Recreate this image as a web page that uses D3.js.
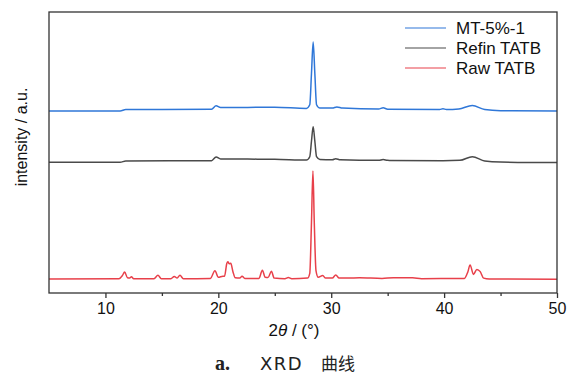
<!DOCTYPE html>
<html>
<head>
<meta charset="utf-8">
<script src="https://cdn.jsdelivr.net/npm/d3@7"></script>
<style>
  body { margin: 0; background: #fff; }
  svg { display: block; }
</style>
</head>
<body>
<div id="chart"></div>
<script>
const width = 570;
const height = 377;

// series: 2theta and intensity (a.u., stacked as in the figure)
const seriesNames = ["MT-5%-1", "Refin TATB", "Raw TATB"];
const seriesColors = ["#2f77d8", "#4a4a4a", "#e8404a"];

const mtTheta = [5, 11.3, 11.8, 15, 19.4, 19.8, 20.2, 25, 27.8, 28.1, 28.25, 28.4, 28.55, 28.7, 29, 30.1, 30.5, 31, 34.2, 34.6, 35, 39.6, 39.9, 40.2, 41.3, 42.5, 43.6, 45, 50];
const mtValue = [64.8, 64.8, 65.3, 65.3, 65.4, 66.6, 66.0, 66.1, 65.7, 67, 78, 89.3, 78, 67, 65.8, 65.8, 66.2, 65.8, 65.5, 65.9, 65.4, 65.3, 65.6, 65.3, 65.5, 66.7, 65.3, 64.9, 64.8];

const refinTheta = [5, 11.3, 11.8, 19.4, 19.8, 20.2, 25, 27.8, 28.1, 28.25, 28.4, 28.55, 28.7, 29, 30.1, 30.4, 30.8, 34.2, 34.6, 35, 39.9, 41.4, 42.5, 43.6, 45, 50];
const refinValue = [46.5, 46.5, 47.0, 47.1, 48.4, 47.7, 47.6, 47.3, 48.5, 54, 59.2, 54, 48.5, 47.5, 47.4, 47.8, 47.4, 47.2, 47.5, 47.2, 47.1, 47.2, 48.5, 47.0, 46.6, 46.4];

const rawTheta = [5, 11.2, 11.5, 11.7, 11.95, 12.15, 12.3, 12.5, 14.3, 14.65, 14.95, 15.8, 16.1, 16.35, 16.6, 16.9, 19.3, 19.7, 20.0, 20.4, 20.55, 20.75, 20.85, 20.95, 21.1, 21.3, 21.5, 21.9, 22.1, 22.35, 23.6, 23.9, 24.15, 24.4, 24.7, 24.95, 25.9, 26.2, 26.5, 27.9, 28.1, 28.25, 28.38, 28.5, 28.65, 28.85, 29.25, 29.5, 30.1, 30.4, 30.7, 31.5, 32.5, 34.5, 35.5, 37.2, 38, 41.8, 42.1, 42.3, 42.6, 42.9, 43.2, 43.5, 44, 50];
const rawValue = [5.0, 5.1, 6.2, 7.5, 5.4, 5.3, 5.8, 5.1, 5.1, 6.3, 5.1, 5.1, 5.9, 5.3, 6.3, 5.1, 5.2, 7.9, 5.6, 6.0, 6.0, 10.5, 11.1, 10.4, 10.6, 7.5, 5.4, 5.3, 6.0, 5.2, 5.2, 8.1, 5.6, 5.5, 7.7, 5.3, 5.1, 5.5, 5.1, 5.3, 7, 25, 43.4, 25, 8, 5.6, 6.2, 5.3, 5.3, 6.4, 5.3, 5.3, 5.4, 5.2, 5.4, 5.4, 5.1, 5.2, 7.5, 10.0, 6.6, 8.4, 7.6, 5.3, 5.0, 4.9];

const majorTicks = [10, 20, 30, 40, 50];
const minorTicks = [15, 25, 35, 45];

const margin = { top: 12, right: 13, bottom: 84, left: 49 };
const innerW = width - margin.left - margin.right;
const innerH = height - margin.top - margin.bottom;

const svg = d3.select("#chart")
    .append("svg")
    .attr("width", width)
    .attr("height", height);

const g = svg.append("g")
    .attr("transform", `translate(${margin.left},${margin.top})`);

const x = d3.scaleLinear().domain([5, 50]).range([0, innerW]);
const y = d3.scaleLinear().domain([0, 100]).range([innerH, 0]);

const line = d3.line()
    .x(d => x(d[0]))
    .y(d => y(d[1]))
    .curve(d3.curveMonotoneX);

const series = [
    d3.zip(mtTheta, mtValue),
    d3.zip(refinTheta, refinValue),
    d3.zip(rawTheta, rawValue)
];

g.selectAll("path.trace")
    .data(series)
    .enter()
    .append("path")
    .attr("class", "trace")
    .attr("d", line)
    .attr("fill", "none")
    .attr("stroke", (d, i) => seriesColors[i])
    .attr("stroke-width", 1.5)
    .attr("stroke-linejoin", "round");

// frame
g.append("rect")
    .attr("width", innerW)
    .attr("height", innerH)
    .attr("fill", "none")
    .attr("stroke", "#333")
    .attr("stroke-width", 1.3);

// x axis
const xAxis = g.append("g")
    .attr("transform", `translate(0,${innerH})`)
    .call(d3.axisBottom(x).tickValues(majorTicks).tickSize(5).tickPadding(5));
xAxis.select(".domain").remove();
xAxis.selectAll("line").attr("stroke", "#333").attr("stroke-width", 1.3);
xAxis.selectAll("text")
    .attr("fill", "#111")
    .style("font-family", "'Liberation Sans', Arial, sans-serif")
    .style("font-size", "16px");

const xMinor = g.append("g")
    .attr("transform", `translate(0,${innerH})`)
    .call(d3.axisBottom(x).tickValues(minorTicks).tickSize(3).tickFormat(""));
xMinor.select(".domain").remove();
xMinor.selectAll("line").attr("stroke", "#333").attr("stroke-width", 1.3);

// axis titles
const xTitle = svg.append("text")
    .attr("x", 294)
    .attr("y", 336)
    .attr("text-anchor", "middle")
    .attr("fill", "#111")
    .style("font-family", "'Liberation Sans', Arial, sans-serif")
    .style("font-size", "17px");
xTitle.append("tspan").text("2");
xTitle.append("tspan").attr("font-style", "italic").text("θ");
xTitle.append("tspan").text(" / (°)");

svg.append("text")
    .attr("transform", "translate(27,137) rotate(-90)")
    .attr("text-anchor", "middle")
    .attr("fill", "#111")
    .style("font-family", "'Liberation Sans', Arial, sans-serif")
    .style("font-size", "16px")
    .text("intensity / a.u.");

// legend
const legend = svg.append("g");
seriesNames.forEach((name, i) => {
    const ly = 28 + i * 20;
    legend.append("line")
        .attr("x1", 405).attr("x2", 446)
        .attr("y1", ly).attr("y2", ly)
        .attr("stroke", seriesColors[i])
        .attr("stroke-width", 1.2);
    legend.append("text")
        .attr("x", 456)
        .attr("y", ly + 6)
        .attr("fill", "#111")
        .style("font-family", "'Liberation Sans', Arial, sans-serif")
        .style("font-size", "17px")
        .text(name);
});

// caption
const caption = svg.append("text")
    .attr("y", 370)
    .attr("fill", "#222");
caption.append("tspan")
    .attr("x", 215)
    .style("font-family", "'Liberation Serif', serif")
    .style("font-size", "20px")
    .attr("font-weight", "bold")
    .text("a.");
caption.append("tspan")
    .attr("x", 260)
    .style("font-family", "'DejaVu Sans', sans-serif")
    .style("font-size", "18px")
    .style("letter-spacing", "1.5px")
    .text("XRD");
caption.append("tspan")
    .attr("x", 321)
    .style("font-family", "'Noto Sans CJK SC', sans-serif")
    .style("font-size", "17px")
    .text("曲线");
</script>
</body>
</html>
